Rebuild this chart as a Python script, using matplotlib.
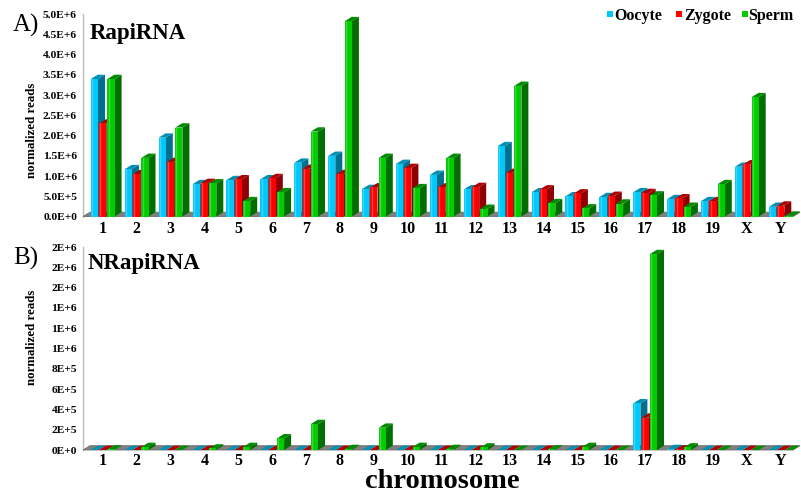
import matplotlib
matplotlib.use('Agg')
import matplotlib.pyplot as plt
from matplotlib.patches import Polygon, Rectangle
import numpy as np

# ---------------- data ----------------
chromosomes = ['1', '2', '3', '4', '5', '6', '7', '8', '9', '10', '11', '12',
               '13', '14', '15', '16', '17', '18', '19', 'X', 'Y']
series_names = ['Oocyte', 'Zygote', 'Sperm']

rapi_oocyte = [3.40e6, 1.17e6, 1.95e6, 0.80e6, 0.90e6, 0.92e6, 1.33e6, 1.50e6, 0.68e6, 1.30e6, 1.03e6,
               0.67e6, 1.74e6, 0.60e6, 0.50e6, 0.48e6, 0.60e6, 0.43e6, 0.38e6, 1.23e6, 0.24e6]
rapi_zygote = [2.30e6, 1.05e6, 1.35e6, 0.83e6, 0.92e6, 0.95e6, 1.18e6, 1.05e6, 0.72e6, 1.20e6, 0.72e6,
               0.73e6, 1.08e6, 0.67e6, 0.57e6, 0.51e6, 0.58e6, 0.45e6, 0.38e6, 1.29e6, 0.27e6]
rapi_sperm = [3.40e6, 1.45e6, 2.20e6, 0.82e6, 0.38e6, 0.60e6, 2.10e6, 4.83e6, 1.45e6, 0.70e6, 1.45e6,
              0.19e6, 3.23e6, 0.33e6, 0.20e6, 0.32e6, 0.52e6, 0.24e6, 0.80e6, 2.95e6, 0.02e6]

nrapi_oocyte = [0, 0, 0, 0, 0, 0, 0, 0, 0, 0, 0, 0, 0, 0, 0, 0, 0.46e6, 0.01e6, 0, 0, 0]
nrapi_zygote = [0, 0, 0, 0, 0, 0, 0, 0, 0, 0, 0, 0, 0, 0, 0, 0, 0.32e6, 0.005e6, 0, 0, 0]
nrapi_sperm = [0.005e6, 0.03e6, 0, 0.015e6, 0.03e6, 0.115e6, 0.256e6, 0.01e6, 0.22e6, 0.03e6, 0.01e6,
               0.025e6, 0, 0.005e6, 0.03e6, 0, 1.93e6, 0.025e6, 0, 0, 0]

a_ticks = [0, 0.5e6, 1.0e6, 1.5e6, 2.0e6, 2.5e6, 3.0e6, 3.5e6, 4.0e6, 4.5e6, 5.0e6]
a_ticklabels = ['0.0E+0', '5.0E+5', '1.0E+6', '1.5E+6', '2.0E+6', '2.5E+6',
                '3.0E+6', '3.5E+6', '4.0E+6', '4.5E+6', '5.0E+6']
b_ticks = [0, 0.2e6, 0.4e6, 0.6e6, 0.8e6, 1.0e6, 1.2e6, 1.4e6, 1.6e6, 1.8e6, 2.0e6]
b_ticklabels = ['0E+0', '2E+5', '4E+5', '6E+5', '8E+5', '1E+6', '1E+6', '1E+6',
                '2E+6', '2E+6', '2E+6']

# ---------------- style ----------------
SERIF = 'Liberation Serif'
front_colors = ['#00C8FA', '#FF0000', '#00CC00']
side_colors = ['#00708E', '#8E0000', '#006E00']
top_colors = ['#0090B4', '#B00000', '#008C00']
legend_colors = ['#00C8FA', '#FF0000', '#00CC00']

W, H = 801, 494
fig = plt.figure(figsize=(W / 100, H / 100), dpi=100)

X0_PX = 102.7      # pixel x of first category
STEP_PX = 33.9     # pixel spacing of categories
DX_PX, DY_PX = 7.0, 4.3
BAR_W_PX, PITCH_PX = 7.2, 8.3


def make_axes(top_px, bottom_px, ymax):
    left_px, right_px = 83, 800
    ax = fig.add_axes([left_px / W, 1 - bottom_px / H,
                       (right_px - left_px) / W, (bottom_px - top_px) / H])
    ax.set_xlim((left_px - X0_PX) / STEP_PX, (right_px - X0_PX) / STEP_PX)
    ax.set_ylim(0, ymax)
    for sp in ax.spines.values():
        sp.set_visible(False)
    ax.patch.set_alpha(0)
    return ax, (bottom_px - top_px)


def draw_panel(ax, hpx, ymax, series, ticks, ticklabels, xpad):
    dx = DX_PX / STEP_PX
    dy = DY_PX * ymax / hpx
    w = BAR_W_PX / STEP_PX
    pitch = PITCH_PX / STEP_PX
    xmin, xmax = ax.get_xlim()
    # wall line
    ax.plot([xmin, xmin], [0, ymax], color='#BDBDBD', lw=1.0, clip_on=False, zorder=1)
    # floor
    floor = Polygon([(xmin, 0), (xmax - dx, 0), (xmax, dy), (xmin + dx, dy)],
                    closed=True, facecolor='#808080', edgecolor='#6E6E6E', lw=0.6,
                    clip_on=False, zorder=2)
    ax.add_patch(floor)
    z = 3
    for i in range(len(chromosomes)):
        for s, vals in enumerate(series):
            v = vals[i]
            x0 = i + (s - 1) * pitch - w / 2
            x1 = x0 + w
            side = Polygon([(x1, 0), (x1 + dx, dy), (x1 + dx, v + dy), (x1, v)], closed=True,
                           facecolor=side_colors[s], edgecolor='none', clip_on=False, zorder=z)
            top = Polygon([(x0, v), (x1, v), (x1 + dx, v + dy), (x0 + dx, v + dy)], closed=True,
                          facecolor=top_colors[s], edgecolor='none', clip_on=False, zorder=z)
            front = Rectangle((x0, 0), w, v, facecolor=front_colors[s], edgecolor='none',
                              clip_on=False, zorder=z)
            ax.add_patch(side)
            ax.add_patch(top)
            ax.add_patch(front)
            if v > 0:
                ax.plot([x0 + w * 0.18, x0 + w * 0.18], [0, v], color='white', alpha=0.25,
                        lw=1.0, clip_on=False, zorder=z)
            z += 1
    ax.set_yticks(ticks)
    ax.set_yticklabels(ticklabels, fontfamily=SERIF, fontweight='bold', fontsize=8.2)
    ax.set_xticks(range(len(chromosomes)))
    ax.set_xticklabels(chromosomes, fontfamily=SERIF, fontweight='bold', fontsize=11.5)
    ax.tick_params(axis='y', length=0, pad=4.3)
    ax.tick_params(axis='x', length=0, pad=xpad)


axA, hA = make_axes(14.3, 216.5, 5.0e6)
draw_panel(axA, hA, 5.0e6, [rapi_oocyte, rapi_zygote, rapi_sperm], a_ticks, a_ticklabels, 3.0)

axB, hB = make_axes(247.0, 450.0, 2.0e6)
draw_panel(axB, hB, 2.0e6, [nrapi_oocyte, nrapi_zygote, nrapi_sperm], b_ticks, b_ticklabels, 2.0)


def ftext(xp, yp, s, **kw):
    fig.text(xp / W, 1 - yp / H, s, fontfamily=SERIF, **kw)


ftext(13, 31.7, 'A)', fontsize=18, va='baseline', ha='left')
ftext(13, 264.3, 'B)', fontsize=18, va='baseline', ha='left')
ftext(90, 39.5, 'RapiRNA', fontsize=16.5, fontweight='bold', va='baseline', ha='left')
ftext(88, 269.3, 'NRapiRNA', fontsize=16.5, fontweight='bold', va='baseline', ha='left')
ftext(32, 130, 'normalized reads', fontsize=9.3, fontweight='bold', rotation=90,
      va='center', ha='center')
ftext(32, 337, 'normalized reads', fontsize=9.3, fontweight='bold', rotation=90,
      va='center', ha='center')
ftext(442.5, 487.5, 'chromosome', fontsize=20.5, fontweight='bold', va='baseline', ha='center')

# legend
leg_sq_x = [606.5, 675.8, 741.7]
leg_tx_x = [614.0, 684.0, 748.5]
for s, name in enumerate(series_names):
    fig.patches.append(Rectangle((leg_sq_x[s] / W, 1 - 17.5 / H), 6.3 / W, 6.3 / H,
                                 transform=fig.transFigure, facecolor=legend_colors[s],
                                 edgecolor='none'))
    ftext(leg_tx_x[s], 20.5, name, fontsize=11.5, fontweight='bold', va='baseline', ha='left')

fig.savefig('out.png', dpi=100)
